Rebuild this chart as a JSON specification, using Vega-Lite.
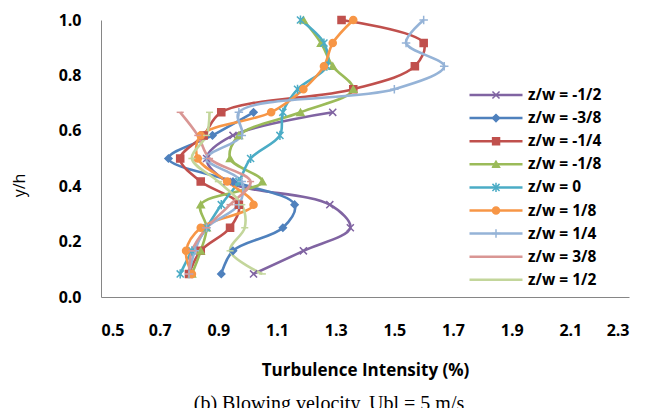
{
  "$schema": "https://vega.github.io/schema/vega-lite/v6.json",
  "width": 528,
  "height": 277,
  "autosize": "none",
  "padding": {"left": 101, "top": 20, "right": 32, "bottom": 111},
  "background": "white",
  "config": {"view": {"stroke": null}},
  "title": {"text": "(b)  Blowing velocity, Ubl = 5 m/s", "orient": "bottom", "anchor": "middle", "font": "Liberation Serif", "fontSize": 20, "fontWeight": "normal", "color": "#000", "offset": 16, "dx": -36},
  "data": {"values": [
    {"s": "z/w = -1/2", "i": 1, "y": 0.0833, "x": 1.02},
    {"s": "z/w = -1/2", "i": 1, "y": 0.1667, "x": 1.19},
    {"s": "z/w = -1/2", "i": 1, "y": 0.25, "x": 1.35},
    {"s": "z/w = -1/2", "i": 1, "y": 0.3333, "x": 1.28},
    {"s": "z/w = -1/2", "i": 1, "y": 0.4167, "x": 0.93},
    {"s": "z/w = -1/2", "i": 1, "y": 0.5, "x": 0.86},
    {"s": "z/w = -1/2", "i": 1, "y": 0.5833, "x": 0.95},
    {"s": "z/w = -1/2", "i": 1, "y": 0.6667, "x": 1.29},
    {"s": "z/w = -3/8", "i": 2, "y": 0.0833, "x": 0.91},
    {"s": "z/w = -3/8", "i": 2, "y": 0.1667, "x": 0.95},
    {"s": "z/w = -3/8", "i": 2, "y": 0.25, "x": 1.12},
    {"s": "z/w = -3/8", "i": 2, "y": 0.3333, "x": 1.16},
    {"s": "z/w = -3/8", "i": 2, "y": 0.4167, "x": 0.95},
    {"s": "z/w = -3/8", "i": 2, "y": 0.5, "x": 0.73},
    {"s": "z/w = -3/8", "i": 2, "y": 0.5833, "x": 0.88},
    {"s": "z/w = -3/8", "i": 2, "y": 0.6667, "x": 1.02},
    {"s": "z/w = -1/4", "i": 3, "y": 0.0833, "x": 0.8},
    {"s": "z/w = -1/4", "i": 3, "y": 0.1667, "x": 0.84},
    {"s": "z/w = -1/4", "i": 3, "y": 0.25, "x": 0.94},
    {"s": "z/w = -1/4", "i": 3, "y": 0.3333, "x": 0.97},
    {"s": "z/w = -1/4", "i": 3, "y": 0.4167, "x": 0.84},
    {"s": "z/w = -1/4", "i": 3, "y": 0.5, "x": 0.77},
    {"s": "z/w = -1/4", "i": 3, "y": 0.5833, "x": 0.85},
    {"s": "z/w = -1/4", "i": 3, "y": 0.6667, "x": 0.91},
    {"s": "z/w = -1/4", "i": 3, "y": 0.75, "x": 1.36},
    {"s": "z/w = -1/4", "i": 3, "y": 0.8333, "x": 1.57},
    {"s": "z/w = -1/4", "i": 3, "y": 0.9167, "x": 1.6},
    {"s": "z/w = -1/4", "i": 3, "y": 1.0, "x": 1.32},
    {"s": "z/w = -1/8", "i": 4, "y": 0.0833, "x": 0.81},
    {"s": "z/w = -1/8", "i": 4, "y": 0.1667, "x": 0.84},
    {"s": "z/w = -1/8", "i": 4, "y": 0.25, "x": 0.86},
    {"s": "z/w = -1/8", "i": 4, "y": 0.3333, "x": 0.84},
    {"s": "z/w = -1/8", "i": 4, "y": 0.4167, "x": 1.05},
    {"s": "z/w = -1/8", "i": 4, "y": 0.5, "x": 0.94},
    {"s": "z/w = -1/8", "i": 4, "y": 0.5833, "x": 0.97},
    {"s": "z/w = -1/8", "i": 4, "y": 0.6667, "x": 1.18},
    {"s": "z/w = -1/8", "i": 4, "y": 0.75, "x": 1.36},
    {"s": "z/w = -1/8", "i": 4, "y": 0.8333, "x": 1.29},
    {"s": "z/w = -1/8", "i": 4, "y": 0.9167, "x": 1.25},
    {"s": "z/w = -1/8", "i": 4, "y": 1.0, "x": 1.19},
    {"s": "z/w = 0", "i": 5, "y": 0.0833, "x": 0.77},
    {"s": "z/w = 0", "i": 5, "y": 0.1667, "x": 0.81},
    {"s": "z/w = 0", "i": 5, "y": 0.25, "x": 0.86},
    {"s": "z/w = 0", "i": 5, "y": 0.3333, "x": 0.91},
    {"s": "z/w = 0", "i": 5, "y": 0.4167, "x": 0.97},
    {"s": "z/w = 0", "i": 5, "y": 0.5, "x": 1.01},
    {"s": "z/w = 0", "i": 5, "y": 0.5833, "x": 1.11},
    {"s": "z/w = 0", "i": 5, "y": 0.6667, "x": 1.12},
    {"s": "z/w = 0", "i": 5, "y": 0.75, "x": 1.17},
    {"s": "z/w = 0", "i": 5, "y": 0.8333, "x": 1.27},
    {"s": "z/w = 0", "i": 5, "y": 0.9167, "x": 1.26},
    {"s": "z/w = 0", "i": 5, "y": 1.0, "x": 1.18},
    {"s": "z/w = 1/8", "i": 6, "y": 0.0833, "x": 0.81},
    {"s": "z/w = 1/8", "i": 6, "y": 0.1667, "x": 0.79},
    {"s": "z/w = 1/8", "i": 6, "y": 0.25, "x": 0.84},
    {"s": "z/w = 1/8", "i": 6, "y": 0.3333, "x": 1.02},
    {"s": "z/w = 1/8", "i": 6, "y": 0.4167, "x": 0.93},
    {"s": "z/w = 1/8", "i": 6, "y": 0.5, "x": 0.83},
    {"s": "z/w = 1/8", "i": 6, "y": 0.5833, "x": 0.84},
    {"s": "z/w = 1/8", "i": 6, "y": 0.6667, "x": 1.08},
    {"s": "z/w = 1/8", "i": 6, "y": 0.75, "x": 1.19},
    {"s": "z/w = 1/8", "i": 6, "y": 0.8333, "x": 1.26},
    {"s": "z/w = 1/8", "i": 6, "y": 0.9167, "x": 1.29},
    {"s": "z/w = 1/8", "i": 6, "y": 1.0, "x": 1.36},
    {"s": "z/w = 1/4", "i": 7, "y": 0.0833, "x": 0.8},
    {"s": "z/w = 1/4", "i": 7, "y": 0.1667, "x": 0.82},
    {"s": "z/w = 1/4", "i": 7, "y": 0.25, "x": 0.86},
    {"s": "z/w = 1/4", "i": 7, "y": 0.3333, "x": 0.97},
    {"s": "z/w = 1/4", "i": 7, "y": 0.4167, "x": 0.98},
    {"s": "z/w = 1/4", "i": 7, "y": 0.5, "x": 0.86},
    {"s": "z/w = 1/4", "i": 7, "y": 0.5833, "x": 0.98},
    {"s": "z/w = 1/4", "i": 7, "y": 0.6667, "x": 0.97},
    {"s": "z/w = 1/4", "i": 7, "y": 0.75, "x": 1.5},
    {"s": "z/w = 1/4", "i": 7, "y": 0.8333, "x": 1.67},
    {"s": "z/w = 1/4", "i": 7, "y": 0.9167, "x": 1.54},
    {"s": "z/w = 1/4", "i": 7, "y": 1.0, "x": 1.6},
    {"s": "z/w = 3/8", "i": 8, "y": 0.0833, "x": 0.8},
    {"s": "z/w = 3/8", "i": 8, "y": 0.1667, "x": 0.81},
    {"s": "z/w = 3/8", "i": 8, "y": 0.25, "x": 0.86},
    {"s": "z/w = 3/8", "i": 8, "y": 0.3333, "x": 0.94},
    {"s": "z/w = 3/8", "i": 8, "y": 0.4167, "x": 1.01},
    {"s": "z/w = 3/8", "i": 8, "y": 0.5, "x": 0.87},
    {"s": "z/w = 3/8", "i": 8, "y": 0.5833, "x": 0.83},
    {"s": "z/w = 3/8", "i": 8, "y": 0.6667, "x": 0.77},
    {"s": "z/w = 1/2", "i": 9, "y": 0.0833, "x": 1.05},
    {"s": "z/w = 1/2", "i": 9, "y": 0.1667, "x": 0.94},
    {"s": "z/w = 1/2", "i": 9, "y": 0.25, "x": 0.99},
    {"s": "z/w = 1/2", "i": 9, "y": 0.3333, "x": 0.98},
    {"s": "z/w = 1/2", "i": 9, "y": 0.4167, "x": 0.9},
    {"s": "z/w = 1/2", "i": 9, "y": 0.5, "x": 0.81},
    {"s": "z/w = 1/2", "i": 9, "y": 0.5833, "x": 0.86},
    {"s": "z/w = 1/2", "i": 9, "y": 0.6667, "x": 0.87}
  ]},
  "layer": [
    {
      "mark": {"type": "line", "interpolate": "catmull-rom", "strokeWidth": 2.6},
      "encoding": {
        "x": {"field": "x", "type": "quantitative",
          "scale": {"domain": [0.5, 2.3], "nice": false, "zero": false},
          "axis": {"values": [0.5, 0.7, 0.9, 1.1, 1.3, 1.5, 1.7, 1.9, 2.1, 2.3], "format": ".1f", "title": "Turbulence Intensity (%)", "grid": false, "ticks": false, "domainColor": "#868686", "domainWidth": 1, "labelFont": "Open Sans", "labelFontSize": 16, "labelFontWeight": "bold", "labelColor": "#000", "labelPadding": 25, "titleFont": "Open Sans", "titleFontSize": 17, "titleFontWeight": "bold", "titleColor": "#000", "titlePadding": 24}},
        "y": {"field": "y", "type": "quantitative",
          "scale": {"domain": [0, 1], "nice": false},
          "axis": {"values": [0, 0.2, 0.4, 0.6, 0.8, 1.0], "format": ".1f", "title": "y/h", "grid": false, "ticks": false, "domainColor": "#868686", "domainWidth": 1, "labelFont": "Open Sans", "labelFontSize": 16, "labelFontWeight": "bold", "labelColor": "#000", "labelPadding": 20, "titleFont": "Open Sans", "titleFontSize": 16, "titleFontWeight": "normal", "titleColor": "#000", "titleX": -74, "titleY": 165}},
        "order": {"field": "y", "type": "quantitative"},
        "color": {"field": "s", "type": "nominal", "sort": {"field": "i", "op": "min"},
          "scale": {"range": ["#8064A2", "#4F81BD", "#C0504D", "#9BBB59", "#4BACC6", "#F79646", "#95B3D7", "#D99694", "#C3D69B"]},
          "legend": {"title": null, "orient": "none", "legendX": 367, "legendY": 64.5, "symbolType": "stroke", "symbolSize": 2809, "symbolStrokeWidth": 2.5, "clipHeight": 21, "rowPadding": 2.1, "labelFont": "Open Sans", "labelFontSize": 15.5, "labelFontWeight": "bold", "labelColor": "#000", "labelOffset": 4, "padding": 0}}
      }
    },
    {
      "transform": [{"filter": "datum.y > 0"}],
      "mark": {"type": "point", "filled": true, "size": 50, "strokeWidth": 1.5, "opacity": 1},
      "encoding": {
        "x": {"field": "x", "type": "quantitative"},
        "y": {"field": "y", "type": "quantitative"},
        "fill": {"field": "s", "type": "nominal", "sort": {"field": "i", "op": "min"},
          "scale": {"range": ["#8064A2", "#4F81BD", "#C0504D", "#9BBB59", "#4BACC6", "#F79646", "#95B3D7", "#D99694", "#C3D69B"]},
          "legend": {"title": null, "orient": "none", "legendX": 390.5, "legendY": 64.5, "clipHeight": 21, "rowPadding": 2.1, "symbolSize": 50, "symbolStrokeWidth": 1.5, "labelExpr": "''", "labelFontSize": 8, "padding": 0}},
        "stroke": {"field": "s", "type": "nominal", "sort": {"field": "i", "op": "min"},
          "scale": {"range": ["#8064A2", "#4F81BD", "#C0504D", "#9BBB59", "#4BACC6", "#F79646", "#95B3D7", "#D99694", "#C3D69B"]},
          "legend": {"title": null, "orient": "none", "legendX": 390.5, "legendY": 64.5, "clipHeight": 21, "rowPadding": 2.1, "symbolSize": 50, "symbolStrokeWidth": 1.5, "labelExpr": "''", "labelFontSize": 8, "padding": 0}},
        "shape": {"field": "s", "type": "nominal", "sort": {"field": "i", "op": "min"},
          "scale": {"range": ["M-1,-1L1,1M-1,1L1,-1", "diamond", "square", "triangle-up", "M-1,-1L1,1M-1,1L1,-1M0,-1.3L0,1.3", "circle", "M-1.2,0L1.2,0M0,-1.2L0,1.2", "M-1,0L1,0", "M-1,0L1,0"]},
          "legend": {"title": null, "orient": "none", "legendX": 390.5, "legendY": 64.5, "clipHeight": 21, "rowPadding": 2.1, "symbolSize": 50, "symbolStrokeWidth": 1.5, "labelExpr": "''", "labelFontSize": 8, "padding": 0}}
      }
    }
  ]
}
